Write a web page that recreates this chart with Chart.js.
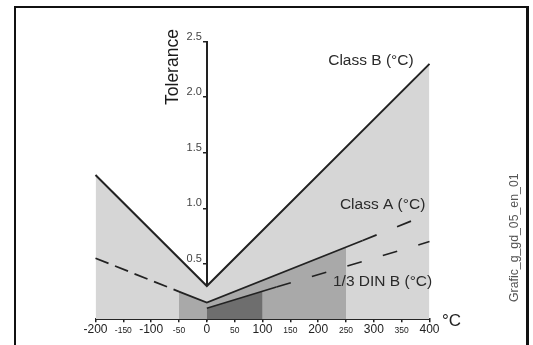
<!DOCTYPE html>
<html>
<head>
<meta charset="utf-8">
<script src="https://cdn.jsdelivr.net/npm/chart.js@4.4.1/dist/chart.umd.min.js"></script>
<style>
  html, body { margin: 0; padding: 0; background: #fff; overflow: hidden; }
  #wrap { position: relative; width: 533px; height: 345px; }
  #frame {
    position: absolute; left: 14px; top: 6px; width: 510px; height: 380px;
    border: 2px solid #111; border-right-width: 3px; border-bottom: none;
  }
  canvas { position: absolute; left: 0; top: 0; }
</style>
</head>
<body>
<div id="wrap">
  <div id="frame"></div>
  <canvas id="tolerance" width="533" height="345"></canvas>
</div>
<script>
'use strict';

// tolerance curves (temperature in °C, tolerance in °C)
const classBTemps = [-200, 0, 400];
const classBValues = [1.3, 0.3, 2.3];

const classATemps = [-200, -50, 0, 280, 400];
const classAValues = [0.55, 0.25, 0.15, 0.71, 0.95];
const classARangeTemps = [-50, 0, 250];
const classARangeValues = [0.25, 0.15, 0.65];

const dinBTemps = [0, 125, 400];
const dinBValues = [0.1, 0.29, 0.7];
const dinBRangeTemps = [0, 100];
const dinBRangeValues = [0.1, 0.25];

const tempTicks = [-200, -150, -100, -50, 0, 50, 100, 150, 200, 250, 300, 350, 400];
const toleranceTicks = [0.5, 1.0, 1.5, 2.0, 2.5];

const FONT = '"Liberation Sans", Arial, sans-serif';

// texts placed in data space (temperature, tolerance)
const labels = [
  { text: 'Class B (°C)', t: 218, v: 2.29, size: 15.5, color: '#2a2a2a' },
  { text: 'Class A (°C)', t: 239, v: 0.99, size: 15.5, color: '#2a2a2a' },
  { text: '1/3 DIN B (°C)', t: 226.6, v: 0.3, size: 15.5, color: '#2a2a2a' },
  { text: '°C', t: 422.4, v: -0.06, size: 17, color: '#222' },
  { text: 'Tolerance', t: -50.9, v: 1.93, size: 17.5, color: '#1a1a1a', rotate: true },
  { text: 'Grafic_g_gd_05_en_01', t: 559, v: 0.156, size: 12.3, color: '#555', rotate: true },
];

function points(temps, values) {
  return temps.map((t, i) => ({ x: t, y: values[i] }));
}

const textPlugin = {
  id: 'chartText',
  afterDraw(chart) {
    const { ctx } = chart;
    const xs = chart.scales.x;
    const ys = chart.scales.y;

    // y tick labels sit left of the axis, a little above their tick
    const axisX = xs.getPixelForValue(0);
    ctx.save();
    ctx.font = `11px ${FONT}`;
    ctx.fillStyle = '#444';
    ctx.textAlign = 'right';
    ctx.textBaseline = 'middle';
    ys.ticks.forEach((tick) => {
      ctx.fillText(tick.value.toFixed(1), axisX - 5, ys.getPixelForValue(tick.value) - 5);
    });
    ctx.restore();

    labels.forEach((l) => {
      ctx.save();
      ctx.translate(xs.getPixelForValue(l.t), ys.getPixelForValue(l.v));
      if (l.rotate) {
        ctx.rotate(-Math.PI / 2);
      }
      ctx.font = `${l.size}px ${FONT}`;
      ctx.fillStyle = l.color;
      ctx.textAlign = 'left';
      ctx.textBaseline = 'alphabetic';
      ctx.fillText(l.text, 0, 0);
      ctx.restore();
    });
  },
};

const lineColor = '#222';

new Chart(document.getElementById('tolerance'), {
  type: 'line',
  data: {
    datasets: [
      {
        data: points(classBTemps, classBValues),
        borderColor: lineColor,
        borderWidth: 2,
        backgroundColor: '#d6d6d6',
        fill: 'origin',
        order: 10,
      },
      {
        data: points(classARangeTemps, classARangeValues),
        borderWidth: 0,
        borderColor: 'rgba(0,0,0,0)',
        backgroundColor: '#a9a9a9',
        fill: 'origin',
        order: 9,
      },
      {
        data: points(dinBRangeTemps, dinBRangeValues),
        borderWidth: 0,
        borderColor: 'rgba(0,0,0,0)',
        backgroundColor: '#6e6e6e',
        fill: 'origin',
        order: 8,
      },
      {
        data: points(classATemps, classAValues),
        borderColor: lineColor,
        borderWidth: 1.8,
        fill: false,
        order: 2,
        segment: {
          borderDash: (ctx) => {
            if (ctx.p1DataIndex === 1) return [14, 7];
            if (ctx.p0DataIndex === 3) return [15, 22];
            return [];
          },
        },
      },
      {
        data: points(dinBTemps, dinBValues),
        borderColor: lineColor,
        borderWidth: 1.6,
        fill: false,
        order: 1,
        segment: {
          borderDash: (ctx) => (ctx.p0DataIndex === 1 ? [15, 22] : []),
        },
      },
    ],
  },
  options: {
    responsive: false,
    animation: false,
    devicePixelRatio: 1,
    clip: false,
    elements: {
      point: { radius: 0, hoverRadius: 0 },
      line: { tension: 0 },
    },
    layout: {
      padding: { left: 95.5, right: 103.5, top: 41.7, bottom: 5.7 },
    },
    plugins: {
      legend: { display: false },
      tooltip: { enabled: false },
    },
    scales: {
      x: {
        type: 'linear',
        min: -200,
        max: 400,
        z: 1,
        afterBuildTicks: (scale) => {
          scale.ticks = tempTicks.map((v) => ({ value: v }));
        },
        afterFit: (scale) => {
          scale.height = 20;
        },
        grid: {
          drawOnChartArea: false,
          tickLength: 3,
          color: lineColor,
          lineWidth: 1.5,
        },
        border: { color: lineColor, width: 2 },
        ticks: {
          autoSkip: false,
          maxRotation: 0,
          padding: 0,
          color: '#222',
          callback: (v) => String(v),
          font: (ctx) => {
            const big = ctx.tick && ctx.tick.value % 100 === 0;
            return big
              ? { family: FONT, size: 12, lineHeight: 1.2 }
              : { family: FONT, size: 8.5, lineHeight: 1.93 };
          },
        },
      },
      y: {
        type: 'linear',
        min: 0,
        max: 2.5,
        position: { x: 0 },
        z: 1,
        afterBuildTicks: (scale) => {
          scale.ticks = toleranceTicks.map((v) => ({ value: v }));
        },
        grid: {
          drawOnChartArea: false,
          tickLength: 3,
          color: lineColor,
          lineWidth: 1.5,
        },
        border: { color: lineColor, width: 2 },
        ticks: { display: false },
      },
    },
  },
  plugins: [textPlugin],
});
</script>
</body>
</html>
